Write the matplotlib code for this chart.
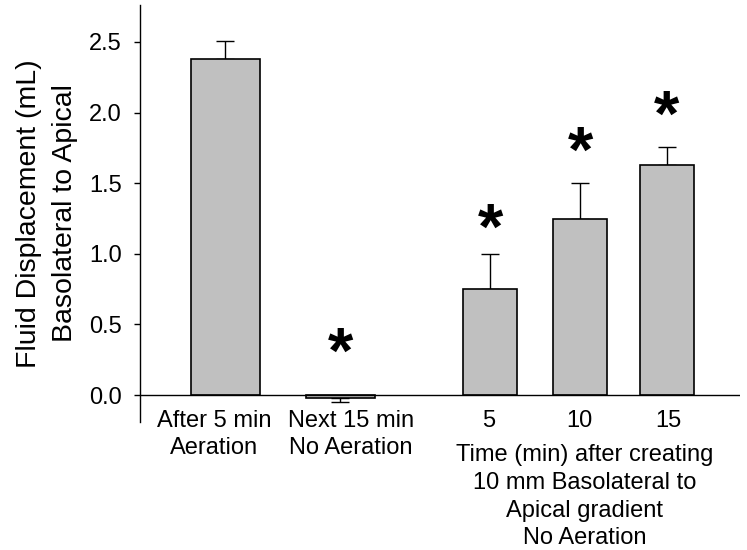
import matplotlib
matplotlib.use("Agg")
import matplotlib.pyplot as plt
from matplotlib.transforms import offset_copy

plt.rcParams['font.family'] = ['Liberation Sans', 'DejaVu Sans']

# ---- data ----
categories = ["After 5 min\nAeration", "Next 15 min\nNo Aeration", "5", "10", "15"]
means = [2.38, -0.02, 0.75, 1.25, 1.63]
errors = [0.125, 0.027, 0.25, 0.25, 0.125]
significant = [False, True, True, True, True]
y_ticks = [0.0, 0.5, 1.0, 1.5, 2.0, 2.5]
y_label = "Fluid Displacement (mL)\nBasolateral to Apical"
group_label = "Time (min) after creating\n10 mm Basolateral to\nApical gradient\nNo Aeration"

# ---- layout ----
positions = [1.00, 2.15, 3.65, 4.55, 5.42]
label_positions = [0.89, 2.26, 3.64, 4.54, 5.43]
widths = [0.69, 0.69, 0.54, 0.54, 0.54]
star_heights = [0.0, 0.37, 1.25, 1.79, 2.05]   # vertical centre of each asterisk

W, H = 747, 550
fig = plt.figure(figsize=(W / 100, H / 100), dpi=100)
ax = fig.add_axes([140 / W, (H - 422) / H, (740 - 140) / W, (422 - 5) / H])

ax.bar(positions, means, width=widths, color="#c0c0c0", edgecolor="black",
       linewidth=1.2, zorder=2)

lower = [e if m < 0 else 0 for m, e in zip(means, errors)]
upper = [0 if m < 0 else e for m, e in zip(means, errors)]
ax.errorbar(positions, means, yerr=[lower, upper], fmt="none", ecolor="black",
            elinewidth=1.0, capsize=6.5, capthick=1.0, zorder=1)

ax.axhline(0, color="black", linewidth=1.0, zorder=3)

# asterisks
star_tr = offset_copy(ax.transData, fig=fig, x=0, y=-30, units="dots")
for x, s, yc in zip(positions, significant, star_heights):
    if s:
        ax.text(x, yc, "*", transform=star_tr, ha="center", va="baseline",
                fontsize=47, fontweight="bold")

ax.set_xlim(0.15, 6.15)
ax.set_ylim(-0.191, 2.762)
ax.set_yticks(y_ticks)
ax.set_yticklabels([f"{v:.1f}" for v in y_ticks], fontsize=17)
ax.set_xticks(label_positions)
ax.set_xticklabels(categories, fontsize=17, linespacing=1.3)
ax.tick_params(axis="x", length=0, pad=-8.6)
ax.tick_params(axis="y", direction="out", length=4.5, width=1.0, pad=8.5)

for sp in ("top", "right", "bottom"):
    ax.spines[sp].set_visible(False)
ax.spines["left"].set_linewidth(1.0)

ax.set_ylabel(y_label, fontsize=20.5, linespacing=1.48, labelpad=8)

ax.text(4.6, -0.35, group_label, ha="center", va="top", fontsize=17,
        linespacing=1.33)

fig.savefig("out.png", dpi=100)
